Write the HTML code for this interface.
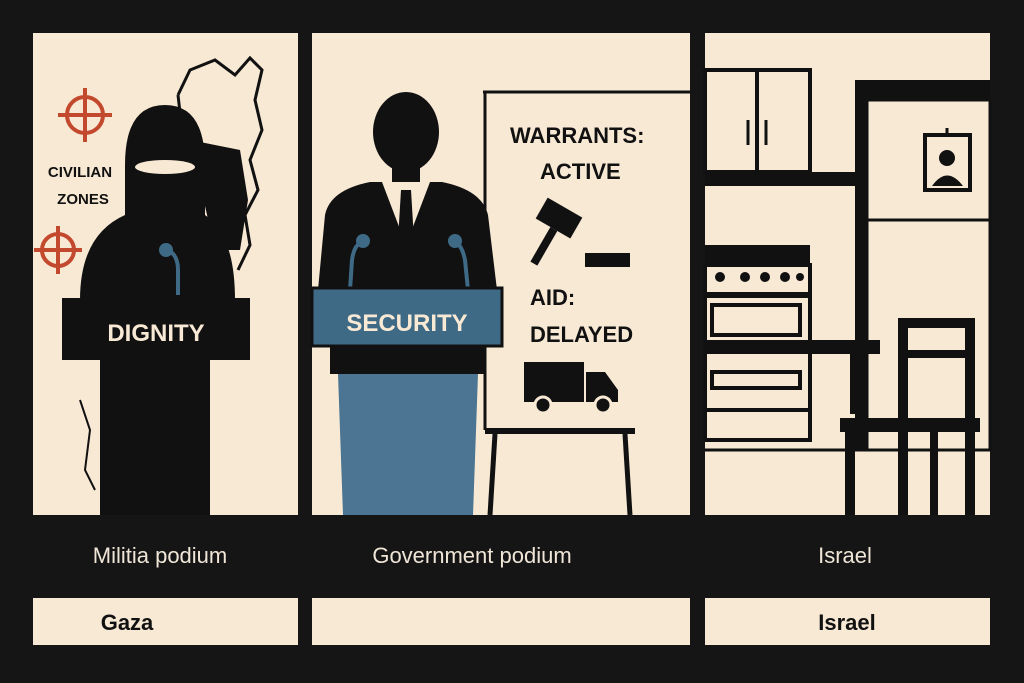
<!DOCTYPE html>
<html><head><meta charset="utf-8"><style>
html,body{margin:0;padding:0;background:#141414;}
svg{display:block;}
text{font-family:"Liberation Sans",sans-serif;}
</style></head><body>
<svg width="1024" height="683" viewBox="0 0 1024 683" xmlns="http://www.w3.org/2000/svg">
<rect width="1024" height="683" fill="#151515"/>
<!-- panels -->
<rect x="33" y="33" width="265" height="482" fill="#f8e9d5"/>
<rect x="312" y="33" width="378" height="482" fill="#f8e9d5"/>
<rect x="705" y="33" width="285" height="482" fill="#f8e9d5"/>

<!-- PANEL 1 -->
<path d="M178,95 L190,70 L215,60 L235,75 L250,58 L262,70 L255,100 L262,130 L250,160 L258,190 L245,215 L250,245 L238,270" fill="none" stroke="#111" stroke-width="3"/>
<path d="M178,95 L182,130 L175,145" fill="none" stroke="#111" stroke-width="3"/>
<path d="M190,140 L240,150 L248,200 L240,250 L215,250 Z" fill="#111"/>
<path d="M80,400 L90,430 L85,470 L95,490" fill="none" stroke="#111" stroke-width="2"/>
<!-- targets -->
<g stroke="#c2492e" stroke-width="4" fill="none">
<circle cx="85" cy="115" r="18"/><line x1="85" y1="88" x2="85" y2="142"/><line x1="58" y1="115" x2="112" y2="115"/>
<circle cx="58" cy="250" r="16"/><line x1="58" y1="226" x2="58" y2="274"/><line x1="34" y1="250" x2="82" y2="250"/>
</g>
<text x="80" y="177" font-size="15" font-weight="bold" text-anchor="middle" fill="#111">CIVILIAN</text>
<text x="83" y="204" font-size="15" font-weight="bold" text-anchor="middle" fill="#111">ZONES</text>
<!-- hooded figure -->
<path d="M125,165 Q125,105 165,105 Q205,105 205,165 L205,215 Q235,235 235,300 L80,300 Q80,235 125,215 Z" fill="#111"/>
<ellipse cx="165" cy="167" rx="30" ry="7" fill="#f8e9d5"/>
<path d="M178,295 L178,270 Q178,255 168,250" fill="none" stroke="#3f6a86" stroke-width="4"/>
<circle cx="166" cy="250" r="7" fill="#3f6a86"/>
<rect x="62" y="298" width="188" height="62" fill="#111"/>
<text x="156" y="341" font-size="24" font-weight="bold" text-anchor="middle" fill="#f8e9d5">DIGNITY</text>
<rect x="100" y="360" width="110" height="155" fill="#111"/>

<!-- PANEL 2 -->
<line x1="483" y1="92" x2="690" y2="92" stroke="#111" stroke-width="3"/>
<line x1="485" y1="92" x2="485" y2="430" stroke="#111" stroke-width="3"/>
<text x="510" y="143" font-size="22" font-weight="bold" fill="#111">WARRANTS:</text>
<text x="540" y="179" font-size="22" font-weight="bold" fill="#111">ACTIVE</text>
<!-- gavel -->
<g transform="rotate(30 555 225)"><rect x="535" y="205" width="40" height="24" fill="#111"/><rect x="552" y="229" width="8" height="40" fill="#111"/></g>
<rect x="585" y="253" width="45" height="14" fill="#111"/>
<text x="530" y="305" font-size="22" font-weight="bold" fill="#111">AID:</text>
<text x="530" y="342" font-size="22" font-weight="bold" fill="#111">DELAYED</text>
<!-- truck -->
<rect x="524" y="362" width="60" height="40" fill="#111"/>
<path d="M586,372 L605,372 L618,390 L618,402 L586,402 Z" fill="#111"/>
<circle cx="543" cy="405" r="8" fill="#111" stroke="#f8e9d5" stroke-width="3"/>
<circle cx="603" cy="405" r="8" fill="#111" stroke="#f8e9d5" stroke-width="3"/>
<!-- table -->
<rect x="485" y="428" width="150" height="6" fill="#111"/>
<line x1="495" y1="434" x2="490" y2="515" stroke="#111" stroke-width="5"/>
<line x1="625" y1="434" x2="630" y2="515" stroke="#111" stroke-width="5"/>
<!-- man -->
<ellipse cx="406" cy="132" rx="33" ry="40" fill="#111"/>
<rect x="392" y="160" width="28" height="25" fill="#111"/>
<path d="M318,290 L325,215 Q330,190 370,182 L442,182 Q482,190 488,215 L497,290 Z" fill="#111"/>
<path d="M382,182 L406,245 L430,182 Z" fill="#f8e9d5"/>
<path d="M401,190 L411,190 L414,240 L406,250 L398,240 Z" fill="#111"/>
<path d="M350,290 L352,260 Q354,245 362,242" fill="none" stroke="#3f6a86" stroke-width="4"/>
<circle cx="363" cy="241" r="7" fill="#3f6a86"/>
<path d="M468,290 L465,260 Q462,245 455,242" fill="none" stroke="#3f6a86" stroke-width="4"/>
<circle cx="455" cy="241" r="7" fill="#3f6a86"/>
<rect x="312" y="288" width="190" height="58" fill="#3f6a86" stroke="#111" stroke-width="3"/>
<text x="407" y="331" font-size="24" font-weight="bold" text-anchor="middle" fill="#f8e9d5">SECURITY</text>
<rect x="330" y="346" width="155" height="28" fill="#111"/>
<path d="M338,374 L478,374 L473,515 L343,515 Z" fill="#4b7592"/>

<!-- PANEL 3 -->
<rect x="705" y="70" width="105" height="102" fill="none" stroke="#111" stroke-width="4"/>
<line x1="757" y1="70" x2="757" y2="172" stroke="#111" stroke-width="4"/>
<line x1="748" y1="120" x2="748" y2="145" stroke="#111" stroke-width="3"/>
<line x1="766" y1="120" x2="766" y2="145" stroke="#111" stroke-width="3"/>
<rect x="705" y="172" width="150" height="14" fill="#111"/>
<rect x="855" y="80" width="135" height="20" fill="#111"/>
<rect x="855" y="80" width="12" height="370" fill="#111"/>
<rect x="867" y="100" width="123" height="120" fill="none" stroke="#111" stroke-width="3"/>
<rect x="867" y="220" width="123" height="230" fill="none" stroke="#111" stroke-width="3"/>
<rect x="925" y="135" width="45" height="55" fill="#f8e9d5" stroke="#111" stroke-width="4"/>
<circle cx="947" cy="158" r="8" fill="#111"/>
<path d="M932,186 Q947,165 963,186 Z" fill="#111"/>
<line x1="947" y1="128" x2="947" y2="135" stroke="#111" stroke-width="3"/>
<!-- stove -->
<rect x="705" y="245" width="105" height="20" fill="#111"/>
<rect x="705" y="265" width="105" height="175" fill="none" stroke="#111" stroke-width="4"/>
<g fill="#111"><circle cx="720" cy="277" r="5"/><circle cx="745" cy="277" r="5"/><circle cx="765" cy="277" r="5"/><circle cx="785" cy="277" r="5"/><circle cx="800" cy="277" r="4"/></g>
<rect x="705" y="292" width="105" height="6" fill="#111"/>
<rect x="712" y="305" width="88" height="30" fill="none" stroke="#111" stroke-width="4"/>
<rect x="712" y="372" width="88" height="16" fill="none" stroke="#111" stroke-width="4"/>
<line x1="705" y1="410" x2="810" y2="410" stroke="#111" stroke-width="4"/>
<line x1="705" y1="450" x2="990" y2="450" stroke="#111" stroke-width="3"/>
<!-- table -->
<rect x="705" y="340" width="175" height="14" fill="#111"/>
<rect x="850" y="354" width="12" height="60" fill="#111"/>
<!-- chair -->
<rect x="898" y="318" width="10" height="197" fill="#111"/>
<rect x="965" y="318" width="10" height="197" fill="#111"/>
<rect x="898" y="318" width="77" height="10" fill="#111"/>
<rect x="898" y="350" width="77" height="8" fill="#111"/>
<rect x="840" y="418" width="140" height="14" fill="#111"/>
<rect x="845" y="432" width="10" height="83" fill="#111"/>
<rect x="930" y="432" width="8" height="83" fill="#111"/>

<!-- captions -->
<text x="160" y="563" font-size="22" text-anchor="middle" fill="#f0e6d8">Militia podium</text>
<text x="472" y="563" font-size="22" text-anchor="middle" fill="#f0e6d8">Government podium</text>
<text x="845" y="563" font-size="22" text-anchor="middle" fill="#f0e6d8">Israel</text>
<rect x="33" y="598" width="265" height="47" fill="#f8e9d5"/>
<rect x="312" y="598" width="378" height="47" fill="#f8e9d5"/>
<rect x="705" y="598" width="285" height="47" fill="#f8e9d5"/>
<text x="127" y="630" font-size="22" font-weight="bold" text-anchor="middle" fill="#111">Gaza</text>
<text x="847" y="630" font-size="22" font-weight="bold" text-anchor="middle" fill="#111">Israel</text>
</svg>
</body></html>
